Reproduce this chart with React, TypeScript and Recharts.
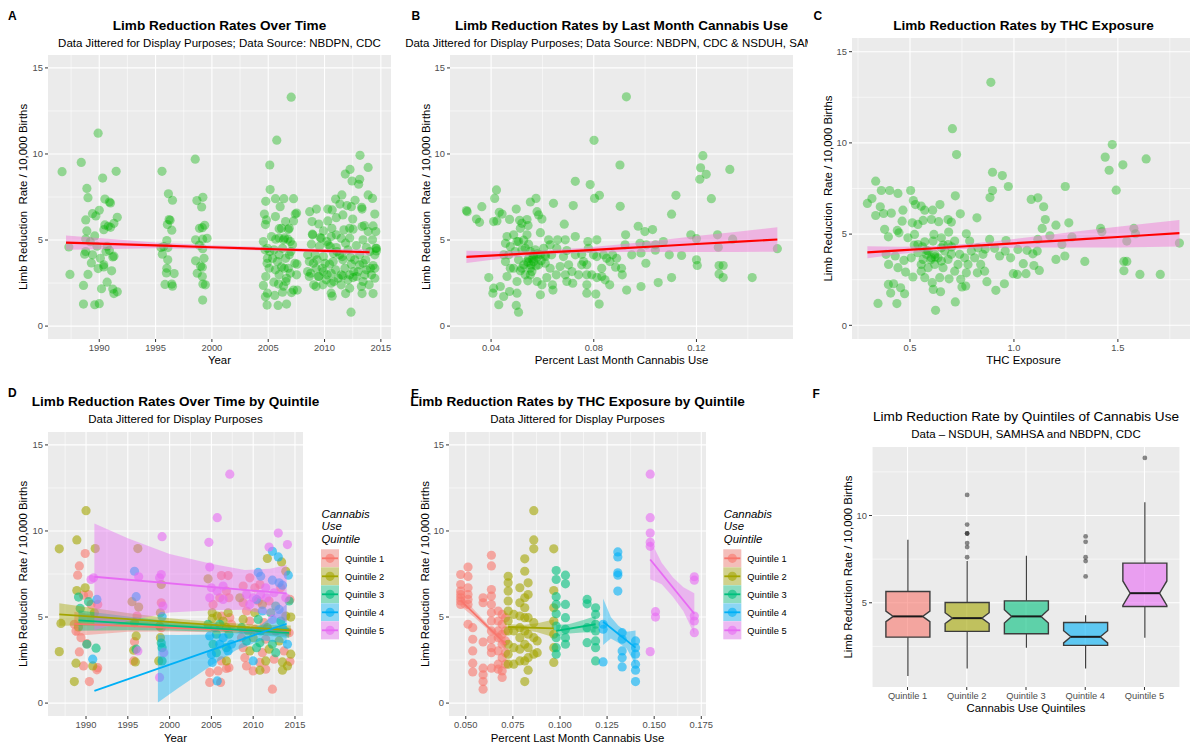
import React from 'react'
import { ComposedChart, Scatter, Line, Area, Bar, XAxis, YAxis, CartesianGrid } from 'recharts'

const FONT = '"Liberation Sans", Arial, Helvetica, sans-serif'
const HUES = ['#F8766D', '#A3A500', '#00BF7D', '#00B0F6', '#E76BF3']
const QUINTILES = ['Quintile 1', 'Quintile 2', 'Quintile 3', 'Quintile 4', 'Quintile 5']

const RATE_TICKS = [0, 5, 10, 15]
const RATE_MINOR = [2.5, 7.5, 12.5]
const YEAR_TICKS = [1990, 1995, 2000, 2005, 2010, 2015]
const YEAR_MINOR = [1987.5, 1992.5, 1997.5, 2002.5, 2007.5, 2012.5]
const USE_TICKS_B = [0.04, 0.08, 0.12]
const USE_MINOR_B = [0.06, 0.1, 0.14]
const THC_TICKS = [0.5, 1.0, 1.5]
const THC_MINOR = [0.25, 0.75, 1.25, 1.75]
const USE_TICKS_E = [0.05, 0.075, 0.1, 0.125, 0.15, 0.175]
const USE_MINOR_E = [0.0625, 0.0875, 0.1125, 0.1375, 0.1625]

// A: year vs rate (jittered)
const ptsA: [number, number][] = [
  [1986.7, 8.97], [1988.4, 9.51], [1989.9, 11.21], [1990.3, 8.6], [1991.5, 8.99], [1988.9, 8.0], [1989.0, 7.46], [1990.5, 7.38],
  [1990.9, 7.21], [1991.0, 7.15], [1989.4, 6.53], [1990.0, 6.73], [1988.8, 6.17], [1989.7, 6.4], [1991.6, 6.32], [1990.8, 5.8],
  [1991.0, 5.74], [1988.9, 5.53], [1991.3, 5.97], [1990.5, 5.88], [1989.6, 5.24], [1988.8, 5.06], [1987.3, 4.6], [1989.8, 4.64],
  [1990.7, 4.64], [1990.6, 4.33], [1988.8, 4.33], [1988.7, 4.18], [1989.4, 4.14], [1989.3, 3.67], [1990.1, 3.94], [1990.4, 3.56],
  [1991.2, 4.02], [1989.9, 3.34], [1990.4, 3.44], [1991.3, 4.06], [1987.4, 3.0], [1989.0, 3.0], [1991.1, 3.21], [1988.6, 2.36],
  [1990.7, 2.55], [1990.2, 2.17], [1991.2, 2.15], [1991.6, 1.99], [1991.3, 1.89], [1988.6, 1.28], [1989.6, 1.24], [1990.0, 1.3],
  [1990.4, 5.6], [1989.2, 4.9], [1990.9, 4.4],
  [1995.57, 8.99], [1996.14, 7.69], [1996.5, 7.31], [1996.29, 6.15], [1996.2, 6.19], [1996.05, 5.9], [1996.44, 5.57], [1996.0, 4.97],
  [1995.48, 4.56], [1995.72, 4.62], [1996.1, 4.56], [1995.6, 4.18], [1996.08, 3.85], [1996.0, 3.36], [1995.96, 3.09], [1996.65, 3.05],
  [1995.84, 2.42], [1996.44, 2.44], [1996.5, 2.32],
  [1998.52, 9.7], [1998.67, 7.29], [1999.2, 7.48], [1999.09, 6.92], [1999.36, 5.86], [1999.15, 5.72], [1998.9, 5.68], [1999.57, 5.1],
  [1998.55, 5.01], [1999.18, 5.05], [1998.88, 4.7], [1999.18, 4.5], [1998.55, 3.79], [1999.3, 3.94], [1999.0, 3.48], [1999.15, 3.42],
  [1998.7, 3.07], [1999.15, 2.88], [1999.2, 2.44], [1999.42, 2.4], [1999.18, 1.51],
  [2007.04, 13.3], [2005.76, 10.8], [2005.14, 9.36], [2005.17, 7.93], [2005.64, 7.4], [2006.39, 7.4], [2007.25, 7.4], [2004.78, 7.25],
  [2006.06, 6.94], [2007.52, 6.57], [2007.4, 6.51], [2004.66, 6.51], [2005.64, 6.36], [2004.84, 6.17], [2006.54, 6.07], [2007.25, 6.11],
  [2006.18, 5.68], [2006.87, 5.68], [2005.97, 5.66], [2006.78, 5.61], [2004.75, 5.9], [2004.57, 4.91], [2005.67, 5.05], [2006.45, 5.12],
  [2006.75, 5.05], [2006.96, 4.91], [2005.97, 5.12], [2006.36, 5.01], [2005.29, 5.2], [2004.72, 4.43], [2005.14, 4.33], [2005.52, 4.43],
  [2006.27, 4.52], [2007.16, 4.72], [2007.01, 4.33], [2004.93, 3.94], [2004.9, 3.65], [2005.82, 3.75], [2006.54, 3.94], [2007.37, 3.65],
  [2006.78, 3.36], [2005.08, 3.36], [2005.64, 3.27], [2006.18, 3.44], [2007.55, 3.6], [2004.78, 2.88], [2005.97, 2.98], [2006.63, 2.78],
  [2007.52, 2.98], [2006.96, 3.07], [2004.57, 2.36], [2005.5, 2.55], [2005.91, 2.44], [2006.57, 2.59], [2007.25, 2.09], [2006.36, 2.32],
  [2007.58, 2.09], [2004.93, 1.91], [2004.75, 1.7], [2005.58, 1.78], [2006.27, 1.97], [2007.07, 1.95], [2004.9, 1.22], [2005.88, 1.2],
  [2006.63, 1.28], [2004.93, 4.52], [2005.97, 4.14], [2006.87, 4.14], [2006.42, 3.36], [2005.38, 3.94],
  [2013.15, 9.92], [2012.26, 9.1], [2011.84, 8.83], [2013.87, 9.22], [2012.44, 8.43], [2013.12, 8.53], [2013.03, 8.24], [2011.54, 7.62],
  [2010.98, 7.38], [2012.71, 7.31], [2013.87, 7.62], [2014.26, 7.42], [2013.3, 6.9], [2008.68, 6.65], [2009.28, 6.8], [2010.29, 6.8],
  [2010.68, 6.75], [2011.37, 7.09], [2011.99, 7.0], [2012.38, 6.94], [2013.33, 6.8], [2014.46, 6.51], [2008.89, 6.07], [2009.49, 5.93],
  [2010.29, 6.11], [2011.04, 6.3], [2011.63, 6.46], [2012.5, 6.22], [2013.54, 5.84], [2013.33, 5.78], [2014.31, 5.82], [2008.92, 5.34],
  [2009.9, 5.53], [2010.65, 5.68], [2011.72, 5.59], [2012.53, 5.63], [2013.87, 5.49], [2014.55, 5.49], [2009.7, 5.1], [2010.59, 5.2],
  [2011.48, 5.1], [2012.23, 5.12], [2013.42, 5.01], [2014.26, 5.01], [2008.83, 4.76], [2009.55, 4.64], [2010.32, 4.72], [2011.04, 4.56],
  [2011.87, 4.82], [2012.82, 4.68], [2013.72, 4.56], [2014.55, 4.52], [2008.5, 4.14], [2009.16, 4.14], [2009.9, 4.04], [2010.8, 4.23],
  [2011.34, 4.14], [2012.32, 4.0], [2013.12, 4.14], [2014.02, 4.33], [2014.61, 4.37], [2008.65, 3.75], [2009.34, 3.85], [2010.05, 3.65],
  [2010.77, 3.75], [2011.63, 3.85], [2012.38, 3.6], [2013.42, 3.65], [2014.31, 3.52], [2008.5, 3.17], [2009.25, 3.36], [2009.9, 3.17],
  [2010.59, 3.07], [2011.48, 2.98], [2012.23, 2.98], [2012.97, 3.17], [2014.17, 2.98], [2008.65, 2.88], [2009.49, 2.88], [2010.14, 2.69],
  [2010.83, 2.59], [2011.63, 2.92], [2012.53, 2.82], [2013.42, 2.59], [2014.46, 2.78], [2009.04, 2.4], [2009.85, 2.4], [2010.59, 2.49],
  [2011.48, 2.4], [2012.23, 2.2], [2013.27, 2.3], [2013.96, 2.4], [2009.25, 2.3], [2010.59, 1.91], [2011.87, 1.89], [2013.33, 1.89],
  [2014.31, 1.89], [2010.68, 1.74], [2012.35, 0.81],
  [2008.95, 5.3], [2009.61, 5.14], [2010.2, 4.91], [2010.5, 4.62], [2011.1, 4.33], [2011.57, 4.04], [2012.08, 4.43], [2012.68, 3.85],
  [2013.66, 3.85], [2014.08, 3.36], [2014.46, 4.14], [2014.6, 4.52], [2009.01, 3.65], [2009.79, 3.36], [2010.44, 3.6], [2010.98, 3.27],
  [2011.81, 3.36], [2012.59, 3.17], [2013.12, 3.56], [2013.72, 3.27], [2014.46, 3.36], [2008.77, 3.07], [2009.46, 2.88], [2010.23, 2.98],
  [2011.22, 2.78], [2012.08, 2.69], [2012.83, 2.88], [2013.57, 2.98], [2011.04, 5.3], [2012.23, 5.68],
]

// B: last-month cannabis use vs rate
const ptsB: [number, number][] = [
  [0.0927, 13.32], [0.0801, 10.79], [0.0902, 9.36], [0.1225, 9.9], [0.1216, 9.2], [0.1238, 8.82], [0.1213, 8.53], [0.133, 9.1],
  [0.1258, 7.4], [0.0728, 8.41], [0.0786, 8.22], [0.0803, 7.42], [0.0822, 7.6], [0.112, 7.6], [0.0903, 6.96], [0.1103, 6.5],
  [0.0421, 7.91], [0.0414, 7.42], [0.0575, 7.42], [0.0553, 7.21], [0.0643, 7.13], [0.072, 7.0], [0.0364, 6.94], [0.0304, 6.71],
  [0.0307, 6.65], [0.0498, 6.8], [0.0432, 6.61], [0.0443, 6.51], [0.0579, 6.65], [0.0343, 6.22], [0.0355, 6.03], [0.041, 6.07],
  [0.0423, 6.11], [0.0472, 6.2], [0.0511, 6.15], [0.054, 6.19], [0.0598, 6.22], [0.0585, 6.46], [0.052, 5.97], [0.0685, 5.92],
  [0.0544, 5.84], [0.0592, 5.43], [0.0973, 5.8], [0.0999, 5.49], [0.1029, 5.61], [0.0924, 5.3], [0.1178, 5.3], [0.1282, 5.3],
  [0.12, 5.08], [0.1341, 5.05], [0.0462, 5.2], [0.0488, 5.3], [0.0514, 5.68], [0.054, 5.3], [0.0456, 4.81], [0.0475, 4.62],
  [0.0501, 4.91], [0.0527, 4.99], [0.0546, 4.76], [0.0572, 4.43], [0.0624, 5.01], [0.0659, 5.01], [0.0689, 5.01], [0.0728, 5.2],
  [0.0777, 4.91], [0.0812, 5.01], [0.0922, 4.72], [0.098, 4.81], [0.0984, 4.25], [0.1005, 4.72], [0.104, 4.72], [0.1071, 4.91],
  [0.104, 4.41], [0.1094, 4.14], [0.1142, 4.1], [0.1285, 4.58], [0.1515, 4.5], [0.12, 3.85], [0.1203, 3.52], [0.1288, 3.52],
  [0.1304, 3.52], [0.1288, 3.02], [0.1304, 2.82], [0.1417, 2.82], [0.1103, 2.82], [0.1051, 2.53], [0.0984, 2.3], [0.0928, 2.09],
  [0.0821, 1.28], [0.1003, 3.65], [0.0911, 2.98], [0.0885, 3.42], [0.0863, 3.75], [0.0838, 4.14], [0.0812, 4.04], [0.085, 3.94],
  [0.076, 3.75], [0.0773, 3.56], [0.0792, 2.98], [0.0831, 2.88], [0.0862, 2.4], [0.0844, 2.69], [0.0773, 2.4], [0.0808, 1.86],
  [0.0773, 1.91], [0.0741, 2.98], [0.0715, 3.17], [0.0689, 2.98], [0.0702, 3.56], [0.0669, 3.46], [0.0682, 4.04], [0.0656, 4.52],
  [0.063, 4.72], [0.0636, 4.14], [0.0605, 4.52], [0.0592, 4.14], [0.0611, 3.65], [0.063, 3.36], [0.0654, 2.98], [0.0617, 2.82],
  [0.0639, 2.4], [0.0641, 2.09], [0.0585, 3.56], [0.0566, 3.75], [0.0553, 3.36], [0.0546, 3.94], [0.0527, 3.56], [0.0507, 3.85],
  [0.0488, 3.36], [0.0514, 3.21], [0.0533, 2.98], [0.0559, 3.17], [0.0579, 2.59], [0.0598, 2.4], [0.0592, 1.82], [0.0501, 1.91],
  [0.0472, 2.01], [0.0449, 1.72], [0.0436, 2.3], [0.041, 2.2], [0.0407, 1.91], [0.0391, 2.82], [0.043, 1.24], [0.0498, 1.2],
  [0.0507, 0.81], [0.0462, 2.88], [0.0475, 3.36], [0.0456, 3.75], [0.0469, 4.14], [0.0449, 4.14], [0.0494, 4.33], [0.052, 4.43],
  [0.0553, 4.33], [0.0501, 2.59], [0.0543, 2.63], [0.0695, 4.39], [0.0753, 4.18], [0.0799, 4.14], [0.0728, 4.14], [0.0779, 4.52],
  [0.0753, 3.56], [0.0718, 2.49], [0.0695, 2.59], [0.0773, 2.98], [0.0812, 2.82], [0.0831, 3.36], [0.0873, 4.14], [0.0889, 3.94],
  [0.0908, 3.36], [0.0948, 4.14], [0.0545, 3.7], [0.056, 3.9], [0.0575, 3.5], [0.0595, 3.8], [0.0565, 4.0], [0.0555, 3.55],
  [0.058, 4.2], [0.0612, 4.05], [0.054, 3.75], [0.0566, 4.14], [0.052, 3.36], [0.0579, 4.0], [0.0553, 2.98], [0.0611, 4.14],
  [0.0533, 4.52], [0.0507, 4.91],
]

// C: THC exposure vs rate
const ptsC: [number, number][] = [
  [0.889, 13.32], [0.704, 10.78], [0.724, 9.36], [1.473, 9.91], [1.439, 9.22], [1.636, 9.12], [1.524, 8.8], [1.458, 8.5],
  [0.897, 8.39], [0.944, 8.21], [0.897, 7.39], [0.973, 7.61], [0.885, 7.0], [1.492, 7.41], [1.247, 7.61], [0.335, 7.9],
  [0.317, 6.95], [0.295, 6.68], [0.362, 7.39], [0.402, 7.39], [0.442, 7.23], [0.503, 7.39], [0.516, 6.84], [0.526, 6.62],
  [0.357, 6.5], [0.335, 6.02], [0.373, 6.13], [0.41, 6.15], [0.466, 6.31], [0.554, 6.53], [0.571, 6.31], [0.609, 6.31],
  [0.644, 6.62], [0.718, 7.1], [0.378, 5.26], [0.439, 5.2], [0.462, 5.71], [0.511, 5.62], [0.538, 5.53], [0.563, 5.75],
  [0.603, 5.8], [0.638, 5.68], [0.683, 5.8], [0.699, 5.66], [0.742, 6.11], [0.822, 5.89], [0.396, 4.85], [0.447, 5.07],
  [0.49, 4.8], [0.522, 4.98], [0.571, 4.58], [0.615, 4.98], [0.651, 4.8], [0.686, 5.11], [0.715, 4.62], [0.771, 5.02],
  [0.787, 4.62], [1.083, 6.9], [1.115, 6.99], [1.143, 6.5], [1.151, 5.8], [1.136, 5.31], [1.202, 5.49], [1.264, 5.62],
  [1.417, 5.31], [1.423, 5.13], [1.577, 5.31], [1.585, 5.02], [1.173, 4.91], [1.115, 4.71], [0.883, 4.71], [0.962, 4.65],
  [1.063, 4.11], [1.091, 3.92], [1.112, 4.07], [1.231, 4.43], [1.279, 4.84], [1.543, 4.62], [1.796, 4.51], [0.907, 4.22],
  [0.931, 3.8], [0.958, 4.07], [0.984, 3.7], [1.019, 4.16], [1.045, 3.38], [1.096, 3.28], [1.122, 3.01], [1.016, 2.79],
  [1.058, 2.83], [0.997, 2.83], [1.202, 3.61], [1.245, 3.8], [1.341, 3.5], [1.529, 3.5], [1.543, 3.5], [1.529, 2.99],
  [1.606, 2.79], [1.704, 2.79], [0.913, 1.92], [0.954, 2.28], [0.87, 2.39], [0.859, 2.97], [0.824, 2.88], [0.84, 3.34],
  [0.811, 3.7], [0.851, 3.89], [0.862, 4.18], [0.827, 4.25], [0.795, 4.07], [0.763, 3.7], [0.739, 3.89], [0.699, 3.89],
  [0.667, 4.07], [0.635, 3.7], [0.603, 3.7], [0.579, 3.89], [0.538, 3.98], [0.506, 3.7], [0.471, 3.56], [0.429, 3.8],
  [0.397, 3.34], [0.385, 3.89], [0.442, 3.16], [0.479, 2.92], [0.514, 2.65], [0.554, 2.97], [0.571, 2.61], [0.607, 2.34],
  [0.643, 2.61], [0.659, 3.16], [0.688, 2.55], [0.715, 2.97], [0.744, 2.52], [0.771, 2.88], [0.75, 2.1], [0.768, 2.15],
  [0.647, 1.84], [0.612, 1.97], [0.455, 2.06], [0.474, 1.73], [0.407, 1.77], [0.396, 2.24], [0.421, 2.28], [0.346, 1.2],
  [0.437, 1.19], [0.718, 1.28], [0.623, 0.82], [0.587, 3.16], [0.619, 3.34], [0.683, 3.61], [0.731, 3.34], [0.779, 3.34],
  [0.554, 3.34], [0.651, 3.52], [0.6, 3.6], [0.62, 3.75], [0.56, 4.3], [0.66, 4.4], [0.7, 4.3], [0.52, 4.4], [0.58, 4.1],
  [0.587, 4.07], [0.619, 3.89], [0.563, 3.61], [0.651, 4.25], [0.538, 4.43], [0.683, 4.43], [0.611, 4.62],
]

// regression fits for A, B, C: [x, fit, lower, upper]
const fitA: [number, number, number, number][] = [
  [1987.05, 4.85, 4.43, 5.27], [1995, 4.69, 4.52, 4.86], [2000, 4.58, 4.47, 4.69],
  [2005, 4.48, 4.38, 4.58], [2010, 4.37, 4.26, 4.48], [2014.0, 4.29, 4.12, 4.46],
]
const fitB: [number, number, number, number][] = [
  [0.0304, 4.02, 3.66, 4.38], [0.045, 4.14, 3.94, 4.34], [0.06, 4.27, 4.14, 4.4], [0.075, 4.39, 4.25, 4.53],
  [0.09, 4.52, 4.3, 4.74], [0.105, 4.64, 4.31, 4.97], [0.12, 4.77, 4.31, 5.23], [0.135, 4.89, 4.31, 5.47],
  [0.1515, 5.03, 4.32, 5.74],
]
const fitC: [number, number, number, number][] = [
  [0.295, 4.0, 3.67, 4.33], [0.45, 4.11, 3.91, 4.31], [0.6, 4.21, 4.08, 4.34], [0.75, 4.32, 4.19, 4.45],
  [0.9, 4.42, 4.24, 4.6], [1.05, 4.53, 4.26, 4.8], [1.2, 4.63, 4.26, 5.0], [1.35, 4.74, 4.27, 5.21],
  [1.5, 4.84, 4.27, 5.41], [1.65, 4.95, 4.3, 5.6], [1.796, 5.05, 4.32, 5.78],
]

// D: year vs rate by quintile [year, rate, quintile]
const ptsD: [number, number, number][] = [
  [1986.8, 8.96, 2], [1988.9, 9.48, 2], [1990.0, 11.18, 2], [1991.1, 8.98, 2], [1987.0, 4.63, 2], [1986.8, 2.99, 2], [1988.6, 1.25, 2],
  [1988.8, 2.32, 2], [1988.9, 6.54, 2], [1989.9, 6.7, 2], [1989.1, 4.42, 2], [1990.8, 2.16, 2], [1989.9, 8.69, 1], [1989.2, 7.97, 1],
  [1989.0, 7.43, 1], [1989.7, 6.27, 1], [1990.3, 6.31, 1], [1990.6, 5.73, 1], [1988.6, 4.58, 1], [1988.8, 4.19, 1], [1989.4, 3.8, 1],
  [1990.1, 3.45, 1], [1989.2, 2.97, 1], [1989.7, 2.16, 1], [1990.4, 1.25, 1], [1991.3, 1.93, 1], [1991.4, 2.06, 1], [1991.4, 5.73, 1],
  [1989.1, 6.16, 3], [1989.3, 5.5, 3], [1990.3, 5.89, 3], [1991.2, 3.19, 3], [1990.1, 3.42, 3], [1990.8, 2.55, 4], [1991.3, 6.02, 4],
  [1990.6, 7.18, 5], [1990.9, 7.28, 5], [1991.0, 5.25, 2],
  [1996.2, 8.98, 2], [1995.8, 7.66, 4], [1996.0, 6.18, 4], [1996.3, 7.34, 5], [1995.5, 5.89, 2], [1996.3, 5.58, 2], [1996.1, 5.06, 1],
  [1995.8, 4.67, 2], [1996.0, 3.9, 2], [1995.8, 3.57, 1], [1996.0, 3.13, 3], [1995.7, 3.07, 2], [1995.7, 2.45, 1], [1995.9, 2.39, 2],
  [1996.2, 3.03, 5],
  [1999.1, 9.67, 5], [1999.0, 7.47, 5], [1998.8, 7.28, 5], [1999.0, 6.89, 2], [1999.0, 5.83, 1], [1999.2, 5.64, 5], [1998.9, 5.25, 2],
  [1999.1, 5.02, 4], [1998.8, 4.48, 2], [1999.0, 4.38, 1], [1998.9, 3.8, 2], [1999.0, 3.49, 3], [1999.1, 3.22, 3], [1999.3, 2.93, 5],
  [1998.7, 2.45, 2], [1999.1, 2.45, 3], [1998.8, 1.49, 5],
  [2007.2, 13.3, 5], [2005.7, 10.77, 5], [2004.7, 9.34, 5], [2004.8, 7.9, 5], [2004.6, 7.22, 2], [2006.2, 7.41, 1], [2007.0, 7.41, 1],
  [2005.0, 6.7, 5], [2004.8, 6.12, 5], [2005.7, 6.51, 5], [2006.4, 6.8, 5], [2006.8, 6.51, 1], [2006.0, 6.12, 1], [2005.2, 5.73, 1],
  [2006.4, 6.02, 5], [2007.1, 6.12, 1], [2005.1, 5.25, 2], [2005.7, 5.06, 2], [2006.2, 5.06, 1], [2007.0, 5.25, 2], [2007.2, 4.96, 1],
  [2005.1, 4.92, 2], [2006.4, 4.77, 2], [2004.6, 4.58, 3], [2005.4, 4.38, 4], [2006.0, 4.58, 3], [2006.8, 4.38, 2], [2007.4, 4.58, 1],
  [2004.8, 3.9, 4], [2005.6, 4.0, 3], [2006.4, 3.8, 4], [2007.1, 4.0, 3], [2005.2, 3.42, 3], [2006.0, 3.42, 4], [2006.8, 3.22, 3],
  [2007.4, 3.42, 4], [2005.0, 2.84, 4], [2005.6, 2.93, 3], [2007.0, 3.03, 4], [2005.1, 2.36, 4], [2006.2, 2.45, 1], [2006.8, 2.45, 2],
  [2007.1, 2.06, 1], [2004.8, 1.2, 1], [2005.7, 1.29, 4], [2006.1, 1.2, 1], [2004.8, 1.78, 1], [2005.8, 1.87, 1], [2006.8, 2.01, 1],
  [2013.0, 9.88, 5], [2014.1, 9.21, 5], [2011.9, 9.07, 5], [2012.3, 8.82, 4], [2013.0, 8.49, 4], [2011.7, 8.4, 2], [2013.4, 8.2, 2],
  [2010.6, 7.59, 4], [2010.9, 7.37, 4], [2014.2, 7.43, 4], [2012.3, 7.14, 4], [2013.1, 6.99, 4], [2013.9, 7.66, 2], [2008.8, 6.8, 1],
  [2009.6, 7.28, 1], [2010.2, 6.7, 1], [2010.8, 6.89, 1], [2011.5, 6.7, 5], [2009.2, 6.31, 5], [2010.0, 6.12, 5], [2010.9, 6.31, 5],
  [2011.6, 6.12, 5], [2012.5, 6.41, 5], [2013.3, 6.7, 1], [2013.9, 6.12, 5], [2008.4, 6.12, 2], [2008.8, 5.83, 1], [2009.6, 5.73, 5],
  [2010.6, 5.93, 1], [2011.1, 5.73, 2], [2011.9, 5.93, 1], [2012.7, 5.64, 3], [2014.3, 5.93, 3], [2014.4, 6.02, 1], [2009.2, 5.35, 1],
  [2010.2, 5.25, 2], [2011.1, 5.35, 4], [2012.1, 5.25, 3], [2013.1, 5.44, 4], [2013.9, 5.06, 2], [2008.8, 4.86, 2], [2009.6, 4.77, 1],
  [2010.6, 4.86, 3], [2011.3, 4.67, 1], [2012.3, 4.86, 5], [2013.3, 4.77, 3], [2014.5, 5.0, 2], [2008.6, 4.38, 3], [2009.4, 4.19, 2],
  [2010.2, 4.29, 1], [2010.9, 4.19, 3], [2011.7, 4.38, 2], [2012.7, 4.19, 1], [2013.6, 4.29, 4], [2014.3, 4.09, 1], [2008.6, 3.8, 1],
  [2009.2, 3.61, 3], [2010.0, 3.8, 2], [2010.8, 3.51, 3], [2011.5, 3.71, 1], [2012.3, 3.42, 3], [2013.1, 3.61, 2], [2014.1, 3.42, 4],
  [2008.8, 3.22, 1], [2009.6, 3.03, 2], [2010.4, 3.22, 3], [2011.1, 2.93, 1], [2011.9, 3.13, 2], [2012.7, 2.93, 3], [2013.7, 3.03, 1],
  [2014.5, 2.84, 2], [2009.0, 2.64, 1], [2010.0, 2.45, 4], [2010.8, 2.36, 1], [2011.5, 2.45, 2], [2012.5, 2.55, 1], [2013.5, 2.39, 2],
  [2014.4, 2.41, 1], [2009.2, 2.16, 1], [2010.0, 1.87, 1], [2010.8, 1.91, 2], [2011.5, 1.97, 1], [2013.5, 1.91, 2], [2014.1, 2.16, 2],
  [2012.3, 0.81, 1], [2010.4, 6.02, 4], [2013.5, 6.85, 4],
]

// D fits per quintile: lines [[x0,y0],[x1,y1]] and bands [x, lower, upper]
const lineD: [number, number][][] = [
  [[1988.6, 4.6], [2014.5, 4.1]],
  [[1986.8, 5.15], [2014.5, 4.23]],
  [[1989.1, 4.8], [2014.3, 4.08]],
  [[1991.0, 0.71], [2014.0, 4.61]],
  [[1991.0, 7.34], [2014.0, 6.37]],
]
const bandD: [number, number, number][][] = [
  [[1988.6, 3.9, 5.3], [1995, 4.15, 4.81], [2000, 4.16, 4.6], [2005, 4.12, 4.44], [2010, 4.03, 4.35], [2014.5, 3.88, 4.32]],
  [[1986.8, 4.5, 5.8], [1995, 4.53, 5.23], [2000, 4.49, 4.93], [2005, 4.38, 4.72], [2010, 4.2, 4.56], [2014.5, 3.95, 4.51]],
  [[1989.1, 4.2, 5.4], [1995, 4.23, 5.03], [2000, 4.22, 4.76], [2005, 4.15, 4.55], [2010, 4.0, 4.4], [2014.3, 3.78, 4.38]],
  [[1998.6, 0.03, 3.97], [2001, 0.86, 3.96], [2005, 2.18, 3.98], [2008, 3.09, 4.09], [2011, 3.65, 4.55], [2014.0, 3.46, 5.76]],
  [[1991.0, 4.24, 10.44], [1995, 4.77, 9.57], [2000, 5.26, 8.66], [2005, 5.4, 8.1], [2009, 5.43, 7.73], [2012, 5.1, 7.8], [2014.0, 4.72, 8.02]],
]

// E: columns of points [use, quintile, rates]
const colsE: [number, number, number[]][] = [
  [0.0473, 1, [7.47, 6.89, 6.51, 6.31, 6.12, 5.93, 5.73]],
  [0.0512, 1, [7.9, 7.36, 6.7, 6.31, 6.02, 5.73, 4.58]],
  [0.0537, 1, [4.38, 3.71, 3.03, 2.32, 1.81]],
  [0.0592, 1, [6.12, 5.83, 3.55, 2.03, 1.64, 1.25, 0.81]],
  [0.0636, 1, [8.59, 7.97, 6.6, 6.22, 5.73, 5.25, 4.77, 4.19, 3.71, 3.22, 2.93, 2.03]],
  [0.0672, 1, [5.35, 4.77, 4.19, 3.8, 3.03, 2.26, 1.97]],
  [0.0693, 1, [5.15, 4.58, 4.0, 3.42, 2.64, 1.87, 1.49]],
  [0.0711, 1, [4.96, 4.19, 3.61, 2.93, 2.26]],
  [0.0725, 2, [7.37, 6.99, 6.51, 5.93, 5.35, 4.77, 4.19, 3.42, 2.84, 2.26]],
  [0.0755, 2, [5.15, 4.19, 3.22, 2.26]],
  [0.0787, 2, [6.7, 5.83, 5.06, 4.38, 3.8, 3.13, 2.45]],
  [0.0813, 2, [8.38, 7.66, 6.12, 5.54, 4.96, 4.19, 3.42, 2.45, 1.25]],
  [0.0831, 2, [6.99, 6.31, 4.96, 4.0, 3.22, 2.64, 1.91]],
  [0.0861, 2, [11.18, 9.48, 8.96, 4.67, 3.8, 2.84]],
  [0.0879, 2, [3.61, 2.93]],
  [0.0967, 2, [8.96, 6.54, 5.54, 4.77, 4.0, 3.22, 2.36]],
  [0.098, 3, [7.7, 7.18, 6.18, 5.73, 5.19, 4.48, 3.8, 3.22, 2.84]],
  [0.1029, 3, [7.43, 6.93, 5.73, 4.96, 4.29, 3.8, 3.42]],
  [0.1144, 3, [6.02, 5.77, 4.38, 3.51]],
  [0.1189, 3, [5.54, 5.15, 4.58, 4.19, 3.61, 3.22, 2.45]],
  [0.1229, 4, [4.58, 4.29, 2.39]],
  [0.1307, 4, [8.78, 8.49, 7.57, 7.43, 6.51]],
  [0.133, 4, [4.09, 3.71, 3.03, 2.64, 2.1]],
  [0.1401, 4, [3.61, 3.22, 2.84, 2.26, 1.91, 1.25]],
  [0.1479, 5, [13.3, 10.77, 9.88, 9.34, 9.11, 2.99]],
  [0.1507, 5, [5.31, 5.0]],
  [0.1713, 5, [7.34, 7.14, 5.06, 4.77, 4.09]],
]
const lineE: [number, number][][] = [
  [[0.0473, 5.97], [0.0711, 3.42]],
  [[0.0725, 4.42], [0.0967, 4.34]],
  [[0.098, 4.19], [0.1189, 4.58]],
  [[0.1229, 4.73], [0.1401, 3.22]],
  [[0.1479, 8.34], [0.1713, 5.19]],
]
const bandE: [number, number, number][][] = [
  [[0.0473, 5.62, 6.32], [0.055, 4.95, 5.35], [0.063, 4.14, 4.44], [0.0711, 3.05, 3.79]],
  [[0.0725, 4.25, 4.59], [0.08, 4.27, 4.53], [0.088, 4.12, 4.64], [0.0967, 3.82, 4.86]],
  [[0.098, 3.85, 4.53], [0.105, 4.05, 4.59], [0.112, 4.1, 4.82], [0.1189, 4.1, 5.06]],
  [[0.1229, 3.38, 6.08], [0.127, 3.75, 5.0], [0.131, 3.5, 4.5], [0.1355, 3.15, 4.15], [0.1401, 2.22, 4.22]],
  [[0.1479, 7.2, 9.48], [0.154, 6.9, 8.16], [0.16, 6.17, 7.29], [0.1655, 5.33, 6.73], [0.1713, 4.0, 6.38]],
]

// F: notched boxplot statistics by quintile
const whiskerLo = [0.8, 1.24, 2.42, 1.24, 3.0]
const hingeLo = [3.03, 3.36, 3.23, 2.56, 4.79]
const notchLo = [3.92, 3.81, 3.84, 2.7, 4.85]
const medians = [4.22, 4.12, 4.22, 3.05, 5.55]
const notchHi = [4.52, 4.43, 4.6, 3.4, 6.25]
const hingeHi = [5.65, 5.02, 5.11, 3.87, 7.27]
const whiskerHi = [8.61, 7.39, 7.69, 4.29, 10.76]
const outliers = [[], [11.18, 9.48, 8.97, 8.97, 8.42, 8.19, 7.61], [], [8.8, 8.49, 7.61, 7.39, 6.51], [13.3]]

const L = 40, T = 4, R = 16, B = 22
const tickStyle = { fill: '#4D4D4D', fontSize: 9.4, fontFamily: FONT }

const dot = (color: string, alpha: number) => (p: any) =>
  <circle cx={p.cx} cy={p.cy} r={4.6} fill={color} fillOpacity={alpha} />

function ScatterPanel({ box, xDomain, xTicks, xMinor, fmt, points, bands, lines }: any) {
  const w = box.x1 - box.x0 + L + R
  const h = box.y1 - box.y0 + T + B
  return (
    <div style={{ position: 'absolute', left: box.x0 - L, top: box.y0 - T }}>
      <ComposedChart width={w} height={h} margin={{ top: T, right: R, bottom: 0, left: 0 }}>
        <CartesianGrid fill="#EBEBEB" fillOpacity={1} stroke="#FFFFFF" strokeWidth={0.55}
          horizontalValues={RATE_MINOR} verticalValues={xMinor} />
        <CartesianGrid stroke="#FFFFFF" strokeWidth={1.1} horizontalValues={RATE_TICKS} verticalValues={xTicks} />
        <XAxis type="number" dataKey="x" domain={xDomain} ticks={xTicks} interval={0} allowDataOverflow height={B}
          axisLine={false} tickLine={{ stroke: '#333333' }} tickSize={3} tickMargin={2.5}
          tickFormatter={fmt} tick={tickStyle} />
        <YAxis type="number" domain={[-0.75, 15.75]} ticks={RATE_TICKS} interval={0} allowDataOverflow width={L}
          axisLine={false} tickLine={{ stroke: '#333333' }} tickSize={3} tickMargin={2} tick={tickStyle} />
        {points.map((s: any, i: number) => (
          <Scatter key={'p' + i} data={s.data} dataKey="y" shape={dot(s.color, s.alpha)} zIndex={50}
            isAnimationActive={false} />
        ))}
        {bands.map((s: any, i: number) => (
          <Area key={'b' + i} data={s.data} dataKey="band" type="linear" stroke="none" fill={s.color}
            fillOpacity={s.alpha} dot={false} activeDot={false} isAnimationActive={false} />
        ))}
        {lines.map((s: any, i: number) => (
          <Line key={'l' + i} data={s.data} dataKey="y" type="linear" stroke={s.color} strokeWidth={s.width}
            dot={false} activeDot={false} isAnimationActive={false} />
        ))}
      </ComposedChart>
    </div>
  )
}

const pairs = (arr: [number, number][]) => arr.map(([x, y]) => ({ x, y }))
const fitBand = (arr: number[][]) => arr.map(([x, , lo, hi]) => ({ x, band: [lo, hi] }))
const fitLine = (arr: number[][]) => arr.map(([x, y]) => ({ x, y }))
const bandRows = (arr: number[][]) => arr.map(([x, lo, hi]) => ({ x, band: [lo, hi] }))

const GREEN = '#00B400'
const simple = (pts: [number, number][], fit: number[][]) => ({
  points: [{ data: pairs(pts), color: GREEN, alpha: 0.38 }],
  bands: [{ data: fitBand(fit), color: '#F07ED8', alpha: 0.5 }],
  lines: [{ data: fitLine(fit), color: '#FF0000', width: 2.2 }],
})

const dPoints = QUINTILES.map((_, q) => ({
  data: ptsD.filter((p) => p[2] === q + 1).map(([x, y]) => ({ x, y })),
  color: HUES[q], alpha: 0.6,
}))
const ePoints = QUINTILES.map((_, q) => ({
  data: colsE.filter((c) => c[1] === q + 1).flatMap(([x, , ys]) => ys.map((y) => ({ x, y }))),
  color: HUES[q], alpha: 0.6,
}))
const quintileBands = (bands: number[][][]) => bands.map((b, q) => ({ data: bandRows(b), color: HUES[q], alpha: 0.42 }))
const quintileLines = (lines: [number, number][][]) => lines.map((l, q) => ({ data: pairs(l), color: HUES[q], width: 1.8 }))

const boxRows = QUINTILES.map((q, i) => ({
  q, range: [whiskerLo[i], whiskerHi[i]], hingeLo: hingeLo[i], notchLo: notchLo[i], median: medians[i],
  notchHi: notchHi[i], hingeHi: hingeHi[i], out: outliers[i], color: HUES[i],
}))

function BoxShape(p: any) {
  const { x, y, width, height, payload } = p
  const [lo, hi] = payload.range
  const top = Math.min(y, y + height)
  const k = Math.abs(height) / (hi - lo)
  const Y = (v: number) => top + (hi - v) * k
  const cx = x + width / 2
  const x0 = x, x1 = x + width
  const inset = width * 0.166
  const d = `M${x0},${Y(payload.hingeHi)}H${x1}V${Y(payload.notchHi)}L${x1 - inset},${Y(payload.median)}` +
    `L${x1},${Y(payload.notchLo)}V${Y(payload.hingeLo)}H${x0}V${Y(payload.notchLo)}` +
    `L${x0 + inset},${Y(payload.median)}L${x0},${Y(payload.notchHi)}Z`
  return (
    <g>
      <line x1={cx} x2={cx} y1={Y(payload.hingeHi)} y2={Y(hi)} stroke="#333333" strokeWidth={1.1} />
      <line x1={cx} x2={cx} y1={Y(payload.hingeLo)} y2={Y(lo)} stroke="#333333" strokeWidth={1.1} />
      <path d={d} fill={payload.color} fillOpacity={0.6} stroke="#3C3C3C" strokeWidth={1.4} />
      <line x1={x0 + inset} x2={x1 - inset} y1={Y(payload.median)} y2={Y(payload.median)} stroke="#1A1A1A" strokeWidth={2} />
      {payload.out.map((v: number, i: number) => (
        <circle key={i} cx={cx} cy={Y(v)} r={2.4} fill="#000000" fillOpacity={0.45} />
      ))}
    </g>
  )
}

function BoxPanel() {
  const box = { x0: 872, y0: 447, x1: 1180, y1: 687 }
  const w = box.x1 - box.x0 + L + 4
  const h = box.y1 - box.y0 + T + B
  return (
    <div style={{ position: 'absolute', left: box.x0 - L, top: box.y0 - T }}>
      <ComposedChart width={w} height={h} data={boxRows} margin={{ top: T, right: 4, bottom: 0, left: 0 }}>
        <CartesianGrid fill="#EBEBEB" fillOpacity={1} stroke="#FFFFFF" strokeWidth={0.55}
          horizontalValues={[2.5, 7.5, 12.5]} vertical={false} />
        <CartesianGrid stroke="#FFFFFF" strokeWidth={1.1} horizontalValues={[5, 10]} />
        <XAxis dataKey="q" type="category" padding={{ left: 5.9, right: 5.9 }} height={B} interval={0}
          axisLine={false} tickLine={{ stroke: '#333333' }} tickSize={3} tickMargin={2.5}
          tick={{ ...tickStyle, fontSize: 9.3 }} />
        <YAxis type="number" domain={[0.175, 13.925]} ticks={[5, 10]} interval={0} allowDataOverflow width={L}
          axisLine={false} tickLine={{ stroke: '#333333' }} tickSize={3} tickMargin={2} tick={tickStyle} />
        <Bar dataKey="range" barSize={44} shape={BoxShape} isAnimationActive={false} />
      </ComposedChart>
    </div>
  )
}

const Txt = ({ x, y, size, bold, italic, anchor = 'middle', rotate, clip, children }: any) => (
  <text x={x} y={y} fontSize={size} fontWeight={bold ? 700 : 400} fontStyle={italic ? 'italic' : 'normal'}
    textAnchor={anchor} fill="#000000" fontFamily={FONT} style={{ whiteSpace: 'pre' }}
    transform={rotate ? `rotate(-90 ${x} ${y})` : undefined} clipPath={clip}>
    {children}
  </text>
)

const YLAB = 'Limb Reduction  Rate / 10,000 Births'
const SUB = 'Data Jittered for Display Purposes'

function Legend({ x }: { x: number }) {
  return (
    <g>
      <Txt x={x + 0.5} y={517.5} size={11.4} italic anchor="start">Cannabis</Txt>
      <Txt x={x + 0.5} y={530} size={11.4} italic anchor="start">Use</Txt>
      <Txt x={x + 0.5} y={542.5} size={11.4} italic anchor="start">Quintile</Txt>
      {QUINTILES.map((q, i) => {
        const ky = 549.3 + 18 * i
        return (
          <g key={q}>
            <rect x={x} y={ky} width={18} height={18} fill="#F2F2F2" />
            <rect x={x} y={ky} width={18} height={18} fill={HUES[i]} fillOpacity={0.42} />
            <line x1={x + 1} x2={x + 17} y1={ky + 9} y2={ky + 9} stroke={HUES[i]} strokeWidth={1.8} />
            <circle cx={x + 9} cy={ky + 9} r={4.6} fill={HUES[i]} fillOpacity={0.6} />
            <Txt x={x + 24} y={ky + 12.4} size={9.3} anchor="start">{q}</Txt>
          </g>
        )
      })}
    </g>
  )
}

function Overlay() {
  return (
    <svg width={1190} height={746} style={{ position: 'absolute', left: 0, top: 0, pointerEvents: 'none' }}>
      <defs>
        <clipPath id="clipSubB"><rect x={395} y={30} width={413} height={24} /></clipPath>
      </defs>
      <Txt x={8} y={20.3} size={12} bold anchor="start">A</Txt>
      <Txt x={411.5} y={20.3} size={12} bold anchor="start">B</Txt>
      <Txt x={813.5} y={20.3} size={12} bold anchor="start">C</Txt>
      <Txt x={8} y={397} size={12} bold anchor="start">D</Txt>
      <Txt x={411} y={397.5} size={12} bold anchor="start">E</Txt>
      <Txt x={812.5} y={397.7} size={12} bold anchor="start">F</Txt>

      <Txt x={219.5} y={30.3} size={13.6} bold>Limb Reduction Rates Over Time</Txt>
      <Txt x={219.5} y={47} size={11.5}>Data Jittered for Display Purposes; Data Source: NBDPN, CDC</Txt>
      <Txt x={621.5} y={30.3} size={13.6} bold>Limb Reduction Rates by Last Month Cannabis Use</Txt>
      <Txt x={621.5} y={47} size={11.5} clip="url(#clipSubB)">Data Jittered for Display Purposes; Data Source: NBDPN, CDC &amp; NSDUH, SAMHSA</Txt>
      <Txt x={1023.5} y={30.3} size={13.6} bold>Limb Reduction Rates by THC Exposure</Txt>
      <Txt x={175.5} y={406.4} size={13.6} bold>Limb Reduction Rates Over Time by Quintile</Txt>
      <Txt x={175.5} y={423.2} size={11.5}>{SUB}</Txt>
      <Txt x={577.5} y={406.4} size={13.6} bold>Limb Reduction Rates by THC Exposure by Quintile</Txt>
      <Txt x={577.5} y={423.2} size={11.5}>{SUB}</Txt>
      <Txt x={1026} y={421.4} size={13.6}>Limb Reduction Rate by Quintiles of Cannabis Use</Txt>
      <Txt x={1026} y={438.2} size={11.5}>Data – NSDUH, SAMHSA and NBDPN, CDC</Txt>

      <Txt x={219.5} y={364.2} size={11.4}>Year</Txt>
      <Txt x={621.5} y={364.2} size={11.4}>Percent Last Month Cannabis Use</Txt>
      <Txt x={1023.5} y={364.2} size={11.4}>THC Exposure</Txt>
      <Txt x={175.5} y={741.5} size={11.4}>Year</Txt>
      <Txt x={577.5} y={741.5} size={11.4}>Percent Last Month Cannabis Use</Txt>
      <Txt x={1026} y={711.5} size={11.4}>Cannabis Use Quintiles</Txt>

      <Txt x={26.7} y={197} size={11.4} rotate>{YLAB}</Txt>
      <Txt x={429.5} y={197} size={11.4} rotate>{YLAB}</Txt>
      <Txt x={831.8} y={188.5} size={11.4} rotate>{YLAB}</Txt>
      <Txt x={26.7} y={574} size={11.4} rotate>{YLAB}</Txt>
      <Txt x={429.3} y={574} size={11.4} rotate>{YLAB}</Txt>
      <Txt x={852.4} y={567} size={11.4} rotate>Limb Reduction Rate / 10,000 Births</Txt>

      <Legend x={321} />
      <Legend x={723.3} />
    </svg>
  )
}

export default function App() {
  return (
    <div style={{ position: 'absolute', left: 0, top: 0, width: 1190, height: 746, background: '#FFFFFF', overflow: 'hidden', fontFamily: FONT }}>
      <ScatterPanel box={{ x0: 48, y0: 55, x1: 391, y1: 339 }} xDomain={[1985.45, 2015.9]} xTicks={YEAR_TICKS}
        xMinor={YEAR_MINOR} fmt={(v: number) => String(v)} {...simple(ptsA, fitA)} />
      <ScatterPanel box={{ x0: 450, y0: 55, x1: 793, y1: 339 }} xDomain={[0.024, 0.1576]} xTicks={USE_TICKS_B}
        xMinor={USE_MINOR_B} fmt={(v: number) => v.toFixed(2)} {...simple(ptsB, fitB)} />
      <ScatterPanel box={{ x0: 852, y0: 38, x1: 1195, y1: 339 }} xDomain={[0.221, 1.871]} xTicks={THC_TICKS}
        xMinor={THC_MINOR} fmt={(v: number) => v.toFixed(1)} {...simple(ptsC, fitC)} />
      <ScatterPanel box={{ x0: 48, y0: 432, x1: 303, y1: 716 }} xDomain={[1985.45, 2015.96]} xTicks={YEAR_TICKS}
        xMinor={YEAR_MINOR} fmt={(v: number) => String(v)} points={dPoints}
        bands={quintileBands(bandD)} lines={quintileLines(lineD)} />
      <ScatterPanel box={{ x0: 449, y0: 432, x1: 706, y1: 716 }} xDomain={[0.0411, 0.1775]} xTicks={USE_TICKS_E}
        xMinor={USE_MINOR_E} fmt={(v: number) => v.toFixed(3)} points={ePoints}
        bands={quintileBands(bandE)} lines={quintileLines(lineE)} />
      <BoxPanel />
      <Overlay />
    </div>
  )
}
